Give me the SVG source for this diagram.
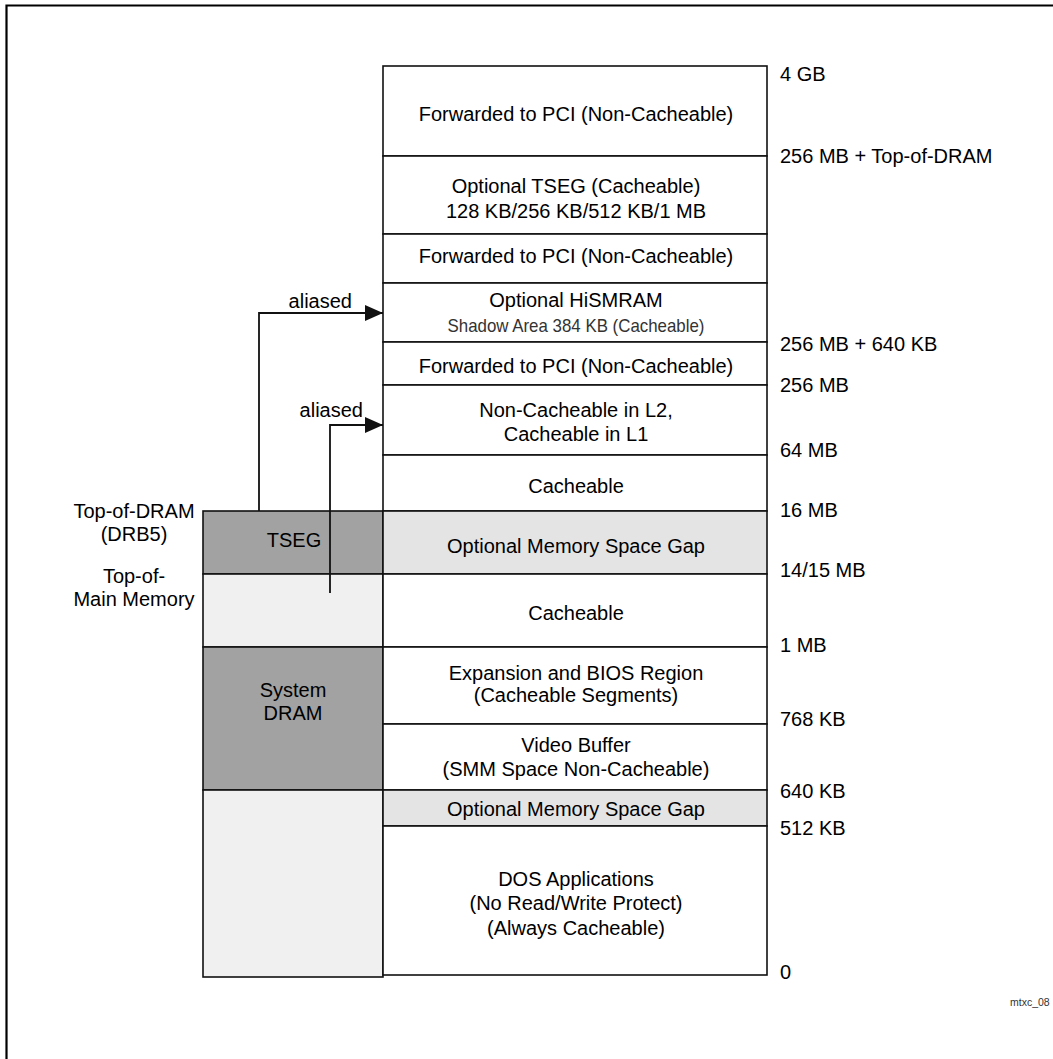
<svg xmlns="http://www.w3.org/2000/svg" width="1053" height="1059" viewBox="0 0 1053 1059">
<style>
text{font-family:"Liberation Sans",Arial,sans-serif;font-size:20px;fill:#000}
.c{text-anchor:middle}
.box{stroke:#111;stroke-width:1.6}
.w{fill:#fff}
.g{fill:#e4e4e4}
.d{fill:#a2a2a2}
.l{fill:#f0f0f0}
.ln{stroke:#111;stroke-width:1.8;fill:none}
</style>
<defs>
<marker id="ah" markerWidth="18" markerHeight="16" refX="18" refY="8" orient="auto" markerUnits="userSpaceOnUse">
<path d="M0,0 L18,8 L0,16 Z" fill="#111"/>
</marker>
</defs>
<rect width="1053" height="1059" fill="#fff"/>
<path d="M6.5,1059 V5.5 H1053" stroke="#000" stroke-width="2.2" fill="none"/>

<g id="left-column">
<rect class="box d" x="203" y="511" width="180" height="63"/>
<rect class="box l" x="203" y="574" width="180" height="73"/>
<rect class="box d" x="203" y="647" width="180" height="143"/>
<rect class="box l" x="203" y="790" width="180" height="187"/>
<text class="c" x="294" y="547">TSEG</text>
<text class="c" x="293" y="697">System</text>
<text class="c" x="293" y="720">DRAM</text>
</g>

<g id="map">
<g id="r1"><rect class="box w" x="383" y="66" width="384" height="90"/><text class="c" x="576" y="121">Forwarded to PCI (Non-Cacheable)</text></g>
<g id="r2"><rect class="box w" x="383" y="156" width="384" height="78"/><text class="c" x="576" y="193">Optional TSEG (Cacheable)</text><text class="c" x="576" y="218">128 KB/256 KB/512 KB/1 MB</text></g>
<g id="r3"><rect class="box w" x="383" y="234" width="384" height="49"/><text class="c" x="576" y="263">Forwarded to PCI (Non-Cacheable)</text></g>
<g id="r4"><rect class="box w" x="383" y="283" width="384" height="59"/><text class="c" x="576" y="307">Optional HiSMRAM</text><text class="c" x="576" y="332" style="font-size:19px;fill:#333" textLength="257" lengthAdjust="spacingAndGlyphs">Shadow Area 384 KB (Cacheable)</text></g>
<g id="r5"><rect class="box w" x="383" y="342" width="384" height="43"/><text class="c" x="576" y="373">Forwarded to PCI (Non-Cacheable)</text></g>
<g id="r6"><rect class="box w" x="383" y="385" width="384" height="70"/><text class="c" x="576" y="417">Non-Cacheable in L2,</text><text class="c" x="576" y="441">Cacheable in L1</text></g>
<g id="r7"><rect class="box w" x="383" y="455" width="384" height="56"/><text class="c" x="576" y="493">Cacheable</text></g>
<g id="r8"><rect class="box g" x="383" y="511" width="384" height="63"/><text class="c" x="576" y="553">Optional Memory Space Gap</text></g>
<g id="r9"><rect class="box w" x="383" y="574" width="384" height="73"/><text class="c" x="576" y="620">Cacheable</text></g>
<g id="r10"><rect class="box w" x="383" y="647" width="384" height="77"/><text class="c" x="576" y="680">Expansion and BIOS Region</text><text class="c" x="576" y="702">(Cacheable Segments)</text></g>
<g id="r11"><rect class="box w" x="383" y="724" width="384" height="66"/><text class="c" x="576" y="752">Video Buffer</text><text class="c" x="576" y="776">(SMM Space Non-Cacheable)</text></g>
<g id="r12"><rect class="box g" x="383" y="790" width="384" height="36"/><text class="c" x="576" y="816">Optional Memory Space Gap</text></g>
<g id="r13"><rect class="box w" x="383" y="826" width="384" height="149"/><text class="c" x="576" y="886">DOS Applications</text><text class="c" x="576" y="910">(No Read/Write Protect)</text><text class="c" x="576" y="935">(Always Cacheable)</text></g>
</g>

<g id="addresses">
<text x="780" y="81">4 GB</text>
<text x="780" y="163">256 MB + Top-of-DRAM</text>
<text x="780" y="351">256 MB + 640 KB</text>
<text x="780" y="392">256 MB</text>
<text x="780" y="457">64 MB</text>
<text x="780" y="517">16 MB</text>
<text x="780" y="577">14/15 MB</text>
<text x="780" y="652">1 MB</text>
<text x="780" y="726">768 KB</text>
<text x="780" y="798">640 KB</text>
<text x="780" y="835">512 KB</text>
<text x="780" y="979">0</text>
</g>

<g id="left-labels">
<text class="c" x="134" y="518">Top-of-DRAM</text>
<text class="c" x="134" y="541">(DRB5)</text>
<text class="c" x="134" y="583">Top-of-</text>
<text class="c" x="134" y="606">Main Memory</text>
</g>

<g id="connectors">
<path class="ln" d="M259,511 V313 H383" marker-end="url(#ah)"/>
<path class="ln" d="M330,593 V425 H383" marker-end="url(#ah)"/>
<text x="352" y="308" style="text-anchor:end">aliased</text>
<text x="363" y="417" style="text-anchor:end">aliased</text>
</g>

<text x="1010" y="1006" style="font-size:10.5px;fill:#333">mtxc_08</text>
</svg>
